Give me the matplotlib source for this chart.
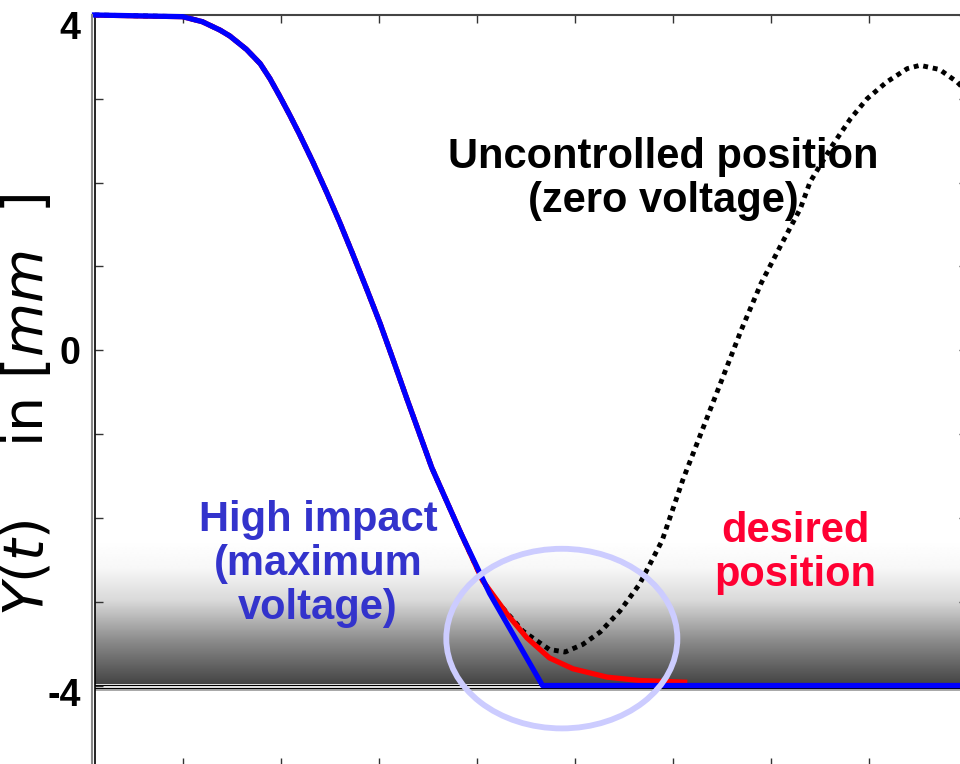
import numpy as np
import matplotlib
matplotlib.use("Agg")
import matplotlib.pyplot as plt
from matplotlib.patches import Ellipse
from matplotlib.lines import Line2D
from matplotlib.transforms import ScaledTranslation

# time axis (arbitrary units, ticks every 1.0) and positions in mm
t_fall = [0.10, 1.00, 1.20, 1.38, 1.48, 1.65, 1.79, 1.89, 1.99, 2.09, 2.19,
          2.33, 2.47, 2.60, 2.73, 2.88, 3.01, 3.13, 3.29, 3.54, 3.84]
y_fall = [4.00, 3.98, 3.92, 3.82, 3.75, 3.59, 3.42, 3.24, 3.03, 2.81, 2.58,
          2.24, 1.88, 1.53, 1.16, 0.72, 0.33, -0.06, -0.59, -1.40, -2.19]

# maximum voltage: hits the -4 mm stop hard
t_blue = t_fall + [4.13, 4.67, 9.00]
y_blue = y_fall + [-2.90, -4.00, -4.00]

# desired position: soft landing
t_red = t_fall + [4.06, 4.31, 4.51, 4.74, 4.98, 5.33, 5.66, 6.12]
y_red = y_fall + [-2.75, -3.15, -3.43, -3.67, -3.80, -3.90, -3.94, -3.96]

# zero voltage: free oscillation
t_free = t_fall + [4.06, 4.20, 4.47, 4.74, 4.90, 5.08, 5.26, 5.46, 5.66,
                   5.89, 6.10, 6.30, 6.50, 6.70, 6.90, 7.10, 7.30, 7.40,
                   7.63, 7.81, 7.98, 8.18, 8.39, 8.52, 8.72, 8.90, 9.00]
y_free = y_fall + [-2.75, -2.99, -3.35, -3.57, -3.60, -3.51, -3.36, -3.11,
                   -2.79, -2.27, -1.55, -0.95, -0.35, 0.25, 0.80, 1.25, 1.69,
                   2.01, 2.45, 2.76, 3.00, 3.20, 3.36, 3.40, 3.35, 3.20, 3.08]

y_ticks = [-4, 0, 4]
y_ticklabels = ["-4", "0", "4"]

fig = plt.figure(figsize=(9.6, 7.64), dpi=100)
ax = fig.add_axes([94.5 / 960, -2 / 764, (967 - 94.5) / 960, (766 - 15) / 764])
ax.set_xlim(0.1, 9.0)
ax.set_ylim(-4.96, 4)

# shaded "floor" band above the -4 level
ys = np.linspace(-3.98, -2.27, 300)
shade = np.interp(ys, [-3.98, -3.46, -2.99, -2.60, -2.27],
                  [0.27, 0.55, 0.85, 0.97, 1.0])
ax.imshow(np.tile(shade[:, None], (1, 2)), extent=[0.1, 9.0, -3.98, -2.27],
          aspect="auto", cmap="gray", vmin=0, vmax=1, origin="lower",
          zorder=0, interpolation="bilinear")
ax.axhline(-3.99, color="black", lw=0.9, zorder=1)
ax.axhline(-4.03, color="black", lw=0.9, zorder=1)
ax.axhline(-4.05, color="#999999", lw=1.2, zorder=1)

ax.plot(t_free, y_free, color="black", lw=3.5, linestyle=(0, (1, 1)),
        dash_capstyle="butt", zorder=2, clip_on=False)
ax.plot(t_red, y_red, color="red", lw=3.8, zorder=3, solid_joinstyle="round")
ax.plot(t_blue, y_blue, color="blue", lw=3.8, zorder=4, clip_on=False,
        solid_joinstyle="round")

ax.add_patch(Ellipse((4.867, -3.44), 2.357, 2.143, fill=False,
                     ec="#ccccff", lw=4.2, zorder=5))

font = dict(family="Liberation Sans", weight="bold", fontsize=30,
            ha="center", va="center", linespacing=1.12)
ax.text(5.90, 2.04, "Uncontrolled position\n(zero voltage)", color="black",
        **font)
ax.text(2.38, -2.55, "High impact\n(maximum\nvoltage)", color="#3333cc",
        **font)
ax.text(7.25, -2.42, "desired\nposition", color="#ff0033", **font)

ax.set_xticks(range(1, 10))
ax.set_xticklabels([])
ax.set_yticks(y_ticks)
ax.set_yticklabels(y_ticklabels, family="Liberation Sans", weight="bold",
                   fontsize=27)
ax.set_yticks(range(-4, 5), minor=True)
ax.tick_params(which="both", direction="in", length=6, width=1,
               color="#333333", top=True, right=True, pad=10)
for lab, dy in zip(ax.get_yticklabels(), [-6, 0, -10]):
    lab.set_transform(lab.get_transform()
                      + ScaledTranslation(0, dy / 100, fig.dpi_scale_trans))
for side in ["top", "right", "bottom"]:
    ax.spines[side].set_color("#444444")
    ax.spines[side].set_linewidth(1.5)
ax.spines["left"].set_color("black")
ax.spines["left"].set_linewidth(1.2)

fig.add_artist(Line2D([92 / 960, 92 / 960], [0, 1 - 15 / 764],
                      color="#888888", lw=1.5))

fig.text(28 / 960, 1 - 405 / 764, r"$Y(t)$    in $[mm\ \ ]$", rotation=90,
         fontsize=40, ha="center", va="center")

fig.savefig("out.png", dpi=100)
